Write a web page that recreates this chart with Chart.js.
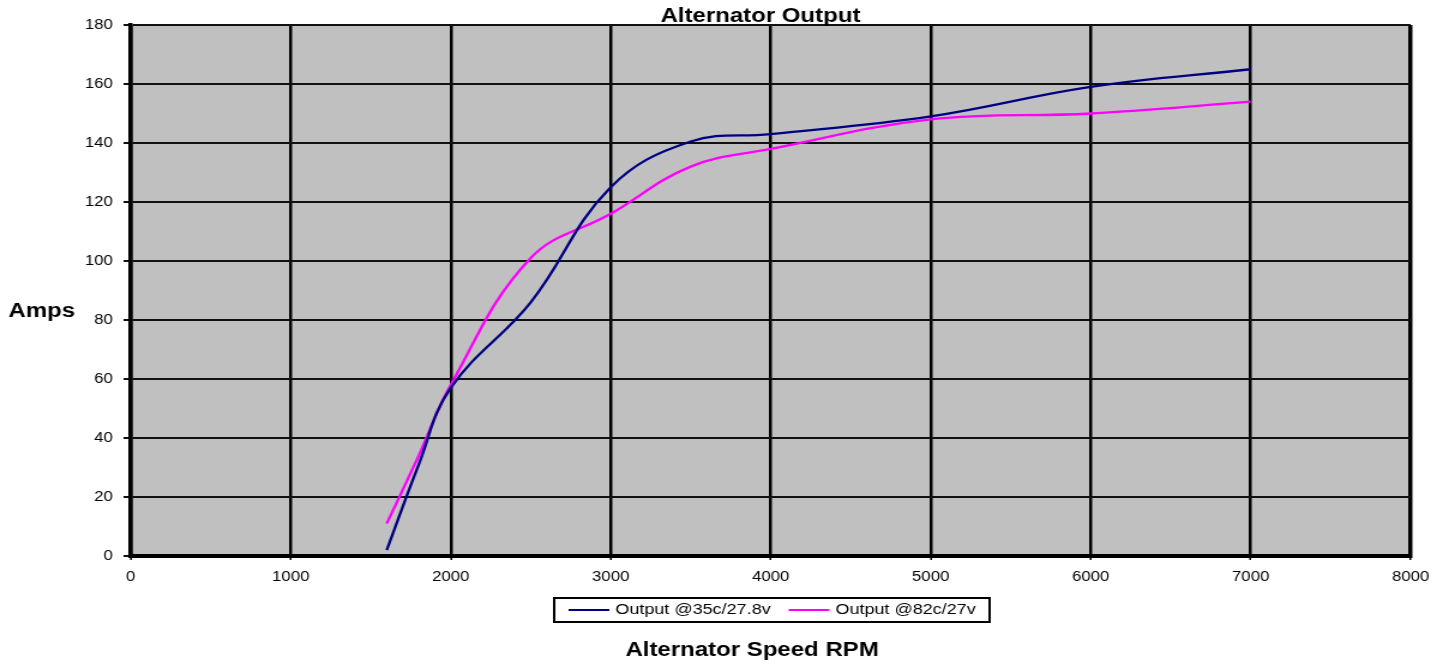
<!DOCTYPE html>
<html>
<head>
<meta charset="utf-8">
<script src="https://cdn.jsdelivr.net/npm/chart.js@4"></script>
<style>
  html, body { margin: 0; padding: 0; background: #fff; overflow: hidden; }
  /* the original chart has its text and marks stretched sideways; draw narrower and widen */
  #wrap { width: 1208px; height: 664px; transform: scaleX(1.1995); transform-origin: 0 0; }
  #chart { width: 1208px; height: 664px; display: block; }
</style>
</head>
<body>
<div id="wrap"><canvas id="chart" width="1208" height="664"></canvas></div>
<script>
const rpm       = [1600, 1800, 2000, 2500, 3000, 3500, 4000, 5000, 6000, 7000];
const output35  = [2, 31, 57, 86, 125, 140.5, 143, 149, 159, 165];
const output82  = [11, 34, 58, 101, 116, 132, 138, 148, 150, 154];
const seriesLabels = ['Output @35c/27.8v', 'Output @82c/27v'];
const seriesColors = ['#000080', '#ff00ff'];

const FONT = "'Liberation Sans', Arial, sans-serif";

const pts = ys => rpm.map((x, i) => ({ x, y: ys[i] }));

// grey plot area, titles and the boxed legend
const frame = {
  id: 'frame',
  beforeDraw(chart) {
    const { ctx, chartArea: a } = chart;
    ctx.save();
    ctx.fillStyle = '#c0c0c0';
    ctx.fillRect(a.left, a.top, a.right - a.left, a.bottom - a.top);
    ctx.restore();
  },
  afterDraw(chart) {
    const { ctx } = chart;
    ctx.save();
    ctx.fillStyle = '#000';
    ctx.textBaseline = 'middle';
    ctx.textAlign = 'center';
    ctx.font = 'bold 20px ' + FONT;
    ctx.fillText('Alternator Output', 634, 16);
    ctx.fillText('Alternator Speed RPM', 627, 650);
    ctx.textAlign = 'left';
    ctx.fillText('Amps', 7, 311);

    // legend
    ctx.strokeStyle = '#000';
    ctx.lineWidth = 2;
    ctx.strokeRect(462, 598, 363, 24);
    ctx.font = '15px ' + FONT;
    let x = 474;
    chart.data.datasets.forEach(ds => {
      ctx.strokeStyle = ds.borderColor;
      ctx.lineWidth = 2;
      ctx.beginPath();
      ctx.moveTo(x, 610);
      ctx.lineTo(x + 34, 610);
      ctx.stroke();
      ctx.fillStyle = '#000';
      ctx.fillText(ds.label, x + 39, 610);
      x += 39 + ctx.measureText(ds.label).width + 15;
    });
    ctx.restore();
  },
};

const ctx = document.getElementById('chart').getContext('2d');
new Chart(ctx, {
  type: 'line',
  data: {
    datasets: seriesLabels.map((label, i) => ({
      label,
      data: pts(i === 0 ? output35 : output82),
      borderColor: seriesColors[i],
      backgroundColor: seriesColors[i],
      borderWidth: 2.3,
      pointRadius: 0,
      tension: 0.4,
      fill: false,
    })),
  },
  options: {
    responsive: false,
    devicePixelRatio: 1,
    animation: false,
    layout: { padding: { left: 0, top: 25, right: 32, bottom: 78 } },
    plugins: {
      title: { display: false },
      tooltip: { enabled: false },
      legend: { display: false },
    },
    scales: {
      x: {
        type: 'linear',
        min: 0, max: 8000,
        afterFit: s => { s.height = 30; },
        ticks: {
          stepSize: 1000,
          color: '#000',
          font: { family: FONT, size: 14 },
          padding: 9,
          callback: v => String(v),
        },
        grid: {
          color: '#000',
          lineWidth: c => (c.index === 8 ? 3.5 : 2.5),
          tickLength: 4,
          tickWidth: 1.5,
        },
        border: { color: '#000', width: 4 },
      },
      y: {
        min: 0, max: 180,
        afterFit: s => { s.width = 109; },
        ticks: { stepSize: 20, color: '#000', font: { family: FONT, size: 14 }, padding: 9 },
        grid: { color: '#111', lineWidth: 2, tickLength: 6, tickWidth: 2 },
        border: { color: '#000', width: 3.5 },
      },
    },
  },
  plugins: [frame],
});
</script>
</body>
</html>
